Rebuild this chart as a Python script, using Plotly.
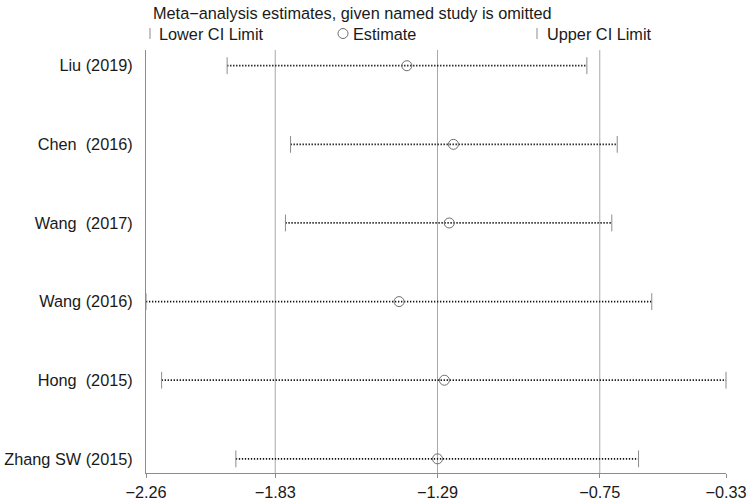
import plotly.graph_objects as go

studies = ["Liu (2019)", "Chen  (2016)", "Wang  (2017)", "Wang (2016)", "Hong  (2015)", "Zhang SW (2015)"]
lower = [-1.99, -1.779, -1.796, -2.26, -2.208, -1.961]
estimate = [-1.392, -1.237, -1.251, -1.418, -1.267, -1.29]
upper = [-0.793, -0.692, -0.71, -0.577, -0.33, -0.621]

tick_vals = [-2.26, -1.83, -1.29, -0.75, -0.33]
tick_text = ["\u22122.26", "\u22121.83", "\u22121.29", "\u22120.75", "\u22120.33"]
grid_vals = [-1.83, -1.29, -0.75]

title_text = "Meta\u2212analysis estimates, given named study is omitted"
legend_labels = ["Lower CI Limit", "Estimate", "Upper CI Limit"]

n = len(studies)
ypos = [n - 1 - i for i in range(n)]

FONT = "Liberation Sans, Arial, Helvetica, sans-serif"
TXT = "#1a1a1a"
GRAY = "#8c8c8c"
FS = 16.3

fig = go.Figure()

# dotted CI lines
for lo, hi, y in zip(lower, upper, ypos):
    fig.add_trace(go.Scatter(
        x=[lo, hi], y=[y, y], mode="lines",
        line=dict(color="#111111", width=1.8, dash="1.3px,1.7px"),
        showlegend=False, hoverinfo="skip", cliponaxis=False))

# caps
fig.add_trace(go.Scatter(
    x=lower, y=ypos, mode="markers", name=legend_labels[0],
    marker=dict(symbol="line-ns-open", size=12, color=GRAY, line=dict(color=GRAY, width=1)),
    showlegend=False, cliponaxis=False))
fig.add_trace(go.Scatter(
    x=upper, y=ypos, mode="markers", name=legend_labels[2],
    marker=dict(symbol="line-ns-open", size=12, color=GRAY, line=dict(color=GRAY, width=1)),
    showlegend=False, cliponaxis=False))
# estimates
fig.add_trace(go.Scatter(
    x=estimate, y=ypos, mode="markers", name=legend_labels[1],
    marker=dict(symbol="circle-open", size=10, color="#6e6e6e", line=dict(color="#6e6e6e", width=1)),
    showlegend=False, cliponaxis=False))

# gridlines
for g in grid_vals:
    fig.add_shape(type="line", xref="x", yref="paper", x0=g, x1=g, y0=0, y1=1,
                  line=dict(color="#a8a8a8", width=1), layer="below")

# plot area in pixels: left 146, right 726, top 50, bottom 473
L, R, T, B = 146, 726, 50, 473
W = R - L
H = B - T
def px2x(px):
    return (px - L) / W
def py2y(py):
    return (B - py) / H

annotations = [
    dict(text=title_text, x=px2x(151), y=py2y(13), xref="paper", yref="paper",
         xanchor="left", yanchor="middle", showarrow=False,
         font=dict(size=FS, color=TXT, family=FONT)),
]
legend_items = [(150, "bar", legend_labels[0], 157), (343, "circle", legend_labels[1], 351),
                (537, "bar", legend_labels[2], 545)]
for sx, kind, lab, tx in legend_items:
    if kind == "bar":
        fig.add_shape(type="line", xref="paper", yref="paper",
                      x0=px2x(sx), x1=px2x(sx), y0=py2y(28), y1=py2y(39),
                      line=dict(color=GRAY, width=1))
    else:
        fig.add_shape(type="circle", xref="paper", yref="paper",
                      x0=px2x(sx - 5), x1=px2x(sx + 5), y0=py2y(38.5), y1=py2y(28.5),
                      line=dict(color="#6e6e6e", width=1))
    annotations.append(dict(text=lab, x=px2x(tx), y=py2y(33.5), xref="paper", yref="paper",
                            xanchor="left", yanchor="middle", showarrow=False,
                            font=dict(size=FS, color=TXT, family=FONT)))

fig.update_layout(
    width=752, height=504,
    margin=dict(l=L, r=752 - R, t=T, b=504 - B, autoexpand=False),
    paper_bgcolor="white", plot_bgcolor="white",
    font=dict(family=FONT, size=FS, color=TXT),
    annotations=annotations,
    xaxis=dict(range=[-2.26, -0.33], tickvals=tick_vals, ticktext=tick_text,
               showgrid=False, zeroline=False, showline=True, linecolor=GRAY, linewidth=1,
               ticks="outside", ticklen=4, tickcolor=GRAY,
               tickfont=dict(size=FS, color=TXT, family=FONT)),
    yaxis=dict(range=[-0.18, 5.2], tickvals=ypos, ticktext=studies,
               showgrid=False, zeroline=False, showline=True, linecolor=GRAY, linewidth=1,
               ticks="", ticklabelstandoff=9,
               tickfont=dict(size=FS, color=TXT, family=FONT)),
    showlegend=False,
)

fig.write_html("out.html", config={"displayModeBar": False},
               post_script="document.body.style.margin='0';document.body.style.overflow='hidden';")
